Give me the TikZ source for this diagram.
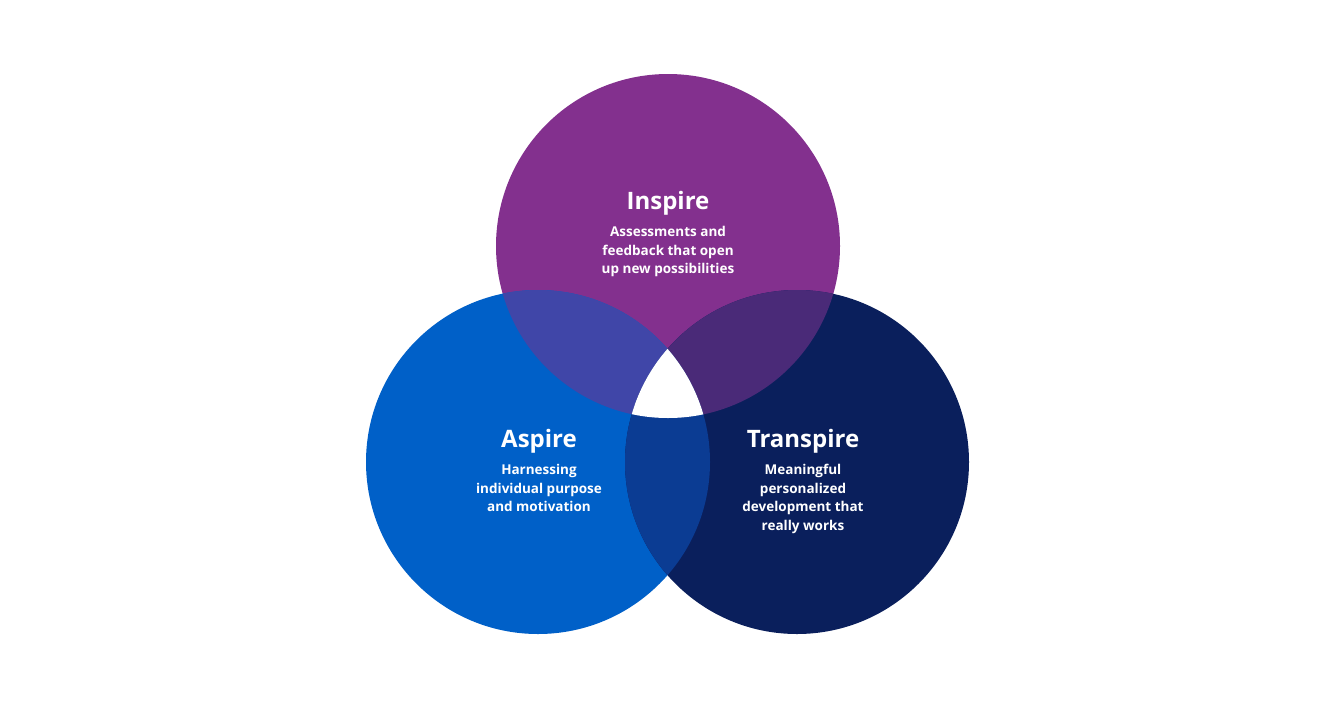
\documentclass[tikz,border=0pt]{standalone}
\usepackage{fontspec}
\setmainfont{Open Sans}
\definecolor{cI}{HTML}{83308E}
\definecolor{cA}{HTML}{0060C8}
\definecolor{cT}{HTML}{0A1F5C}
\definecolor{cIA}{HTML}{4046A8}
\definecolor{cIT}{HTML}{4A2A78}
\definecolor{cAT}{HTML}{0B3C93}
\begin{document}
\begin{tikzpicture}[x=1pt,y=-1pt,
  ttl/.style={text=white,font=\fontsize{24}{28}\selectfont\bfseries},
  sub/.style={text=white,font=\fontsize{13.5}{18.5}\selectfont\bfseries,align=center}]
\useasboundingbox[fill=white] (0,0) rectangle (1336,713);
\def\R{172}
\coordinate (ci) at (668,246);
\coordinate (ca) at (538,462);
\coordinate (ct) at (797,462);
\fill[cI] (ci) circle (\R);
\fill[cA] (ca) circle (\R);
\fill[cT] (ct) circle (\R);
\begin{scope}\clip (ci) circle (\R); \fill[cIA] (ca) circle (\R);\end{scope}
\begin{scope}\clip (ci) circle (\R); \fill[cIT] (ct) circle (\R);\end{scope}
\begin{scope}\clip (ca) circle (\R); \fill[cAT] (ct) circle (\R);\end{scope}
\begin{scope}\clip (ci) circle (\R); \clip (ca) circle (\R); \fill[white] (ct) circle (\R);\end{scope}
\node[ttl] (ti) at (668,203) {Inspire};
\node[sub,anchor=north] (si) at (668,223) {Assessments and\\feedback that open\\up new possibilities};
\node[ttl] (ta) at (539,441) {Aspire};
\node[sub,anchor=north] (sa) at (539,461) {Harnessing\\individual purpose\\and motivation};
\node[ttl] (tt) at (803,441) {Transpire};
\node[sub,anchor=north] (st) at (803,461) {Meaningful\\personalized\\development that\\really works};
\end{tikzpicture}
\end{document}
